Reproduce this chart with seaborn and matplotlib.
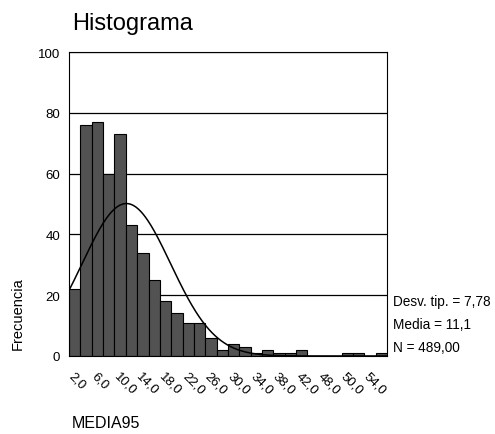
import numpy as np
import matplotlib
matplotlib.use("Agg")
import matplotlib.pyplot as plt
import matplotlib.transforms as mtransforms
import seaborn as sns

# ---- data ----
bin_centers = [2, 4, 6, 8, 10, 12, 14, 16, 18, 20, 22, 24, 26, 28,
               30, 32, 34, 36, 38, 40, 42, 44, 46, 48, 50, 52, 54, 56]
counts = [22, 76, 77, 60, 73, 43, 34, 25, 18, 14, 11, 11, 6, 2,
          4, 3, 1, 2, 1, 1, 2, 0, 0, 0, 1, 1, 0, 1]
bin_width = 2
xtick_labels = ["2,0", "", "6,0", "", "10,0", "", "14,0", "", "18,0", "",
                "22,0", "", "26,0", "", "30,0", "", "34,0", "", "38,0", "",
                "42,0", "", "48,0", "", "50,0", "", "54,0", ""]
yticks = [0, 20, 40, 60, 80, 100]
mean_val = 11.1
sd_val = 7.78
n_val = 489
stats_lines = ["Desv. tip. = 7,78", "Media = 11,1", "N = 489,00"]
title = "Histograma"
xlabel = "MEDIA95"
ylabel = "Frecuencia"

sns.set_style("white")
plt.rcParams['font.family'] = ['Liberation Sans', 'DejaVu Sans']
plt.rcParams['text.color'] = 'black'

fig = plt.figure(figsize=(4.95, 4.35), dpi=100)
ax = fig.add_axes([69/495, 1-357/435, (387-69)/495, (357-53)/435])

edges = [c - bin_width/2 for c in bin_centers] + [bin_centers[-1] + bin_width/2]
sns.histplot(x=bin_centers, weights=counts, bins=edges, ax=ax,
             color="#525252", edgecolor="black", linewidth=0.8, alpha=1.0,
             zorder=2)

# fitted normal curve
xs = np.linspace(edges[0], edges[-1], 400)
ys = n_val * bin_width / (sd_val * np.sqrt(2*np.pi)) * np.exp(-0.5*((xs-mean_val)/sd_val)**2)
sns.lineplot(x=xs, y=ys, ax=ax, color="black", linewidth=1.1, zorder=3)

ax.set_xlim(edges[0], edges[-1])
ax.set_ylim(0, 100)
ax.set_yticks(yticks)
ax.set_yticklabels([str(v) for v in yticks], fontsize=9.5)
ax.yaxis.grid(True, color="black", linewidth=0.9)
ax.set_axisbelow(True)

ax.set_xticks(bin_centers)
ax.set_xticklabels(xtick_labels, fontsize=9.5, rotation=-45,
                   ha="left", va="top", rotation_mode="anchor")
offset = mtransforms.ScaledTranslation(9/100, 0, fig.dpi_scale_trans)
for lab in ax.get_xticklabels():
    lab.set_transform(lab.get_transform() + offset)

ax.tick_params(axis="both", direction="out", length=3.5, width=0.8,
               color="black", labelcolor="black")
ax.tick_params(axis="x", pad=6)
ax.tick_params(axis="y", pad=3)
for s in ["left", "bottom", "right", "top"]:
    ax.spines[s].set_visible(True)
    ax.spines[s].set_color("black")
    ax.spines[s].set_linewidth(0.8)
ax.set_xlabel("")
ax.set_ylabel("")

fig.text(72/495, 1-24/435, title, fontsize=17, ha="left", va="center", color="black")
fig.text(72/495, 1-424/435, xlabel, fontsize=11.5, ha="left", va="center", color="black")
fig.text(18/495, 1-314/435, ylabel, fontsize=10.5, rotation=90,
         ha="center", va="center", color="black")
for txt, yy in zip(stats_lines, [302, 325, 348]):
    fig.text(393/495, 1-yy/435, txt, fontsize=9.8, ha="left", va="center", color="black")

fig.savefig("out.png", dpi=100, facecolor="white")
